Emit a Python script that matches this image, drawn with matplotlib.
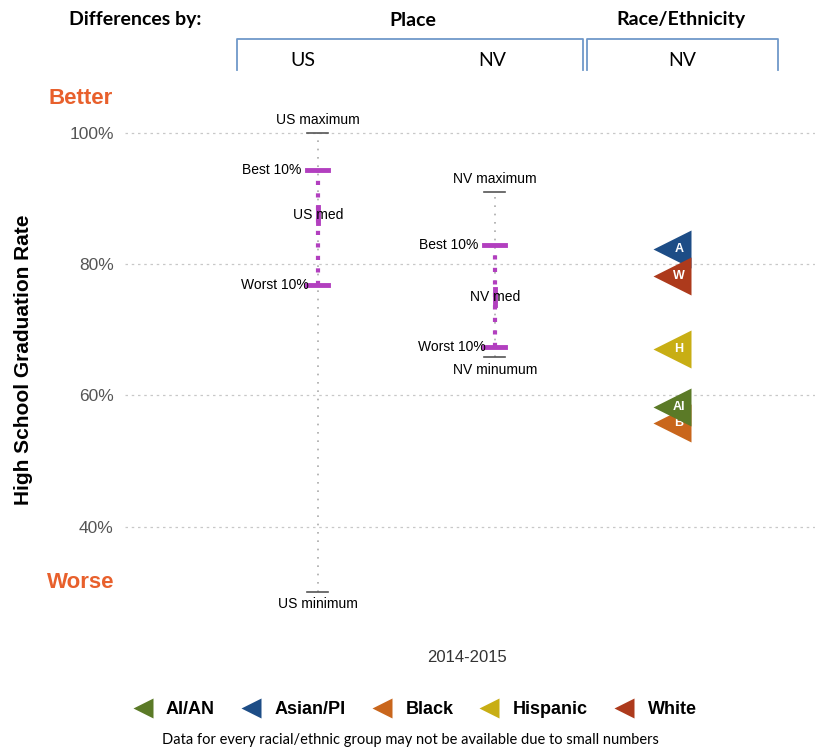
import matplotlib.pyplot as plt
from matplotlib.lines import Line2D

# place summaries (percent graduating)
places = ["US", "NV"]
place_max = [100.0, 91.0]
place_best = [94.3, 83.0]
place_med = [87.5, 75.0]
place_worst = [76.8, 67.4]
place_min = [30.1, 65.8]
min_labels = ["US minimum", "NV minumum"]
max_labels = ["US maximum", "NV maximum"]
med_labels = ["US med", "NV med"]

# race/ethnicity values for NV
groups = ["AI/AN", "Asian/PI", "Black", "Hispanic", "White"]
group_short = ["AI", "A", "B", "H", "W"]
group_vals = [58.3, 82.4, 55.8, 67.1, 78.2]
group_colors = ["#5b7a27", "#1d4d86", "#c9661c", "#c8ae14", "#ad3a1c"]
group_z = [6, 3, 5, 3, 4]

plt.rcParams["font.family"] = ["Liberation Sans", "DejaVu Sans"]

fig = plt.figure(figsize=(8.21, 7.54), dpi=100)
ax = fig.add_axes([0.152, 0.178, 0.841, 0.689])
ax.set_xlim(-1.09, 2.81)
ax.set_ylim(25.8, 105)

for v in [40, 60, 80, 100]:
    ax.axhline(v, color="#c8c8c8", lw=0.9, ls=(0, (2, 3)), zorder=0)

magenta = "#b23fbf"
for i, name in enumerate(places):
    ax.plot([i, i], [place_min[i], place_max[i]], color="#aaaaaa", lw=1.2,
            ls=(0, (1, 4)), zorder=1)
    ax.plot([i, i], [place_worst[i], place_best[i]], color=magenta, lw=3,
            ls=(0, (1, 2)), zorder=2)
    ax.plot([i - 0.06, i + 0.06], [place_max[i]] * 2, color="#555555", lw=1.2)
    ax.plot([i - 0.06, i + 0.06], [place_min[i]] * 2, color="#555555", lw=1.2)
    ax.plot([i - 0.06, i + 0.06], [place_best[i]] * 2, color=magenta, lw=3.5)
    ax.plot([i - 0.06, i + 0.06], [place_worst[i]] * 2, color=magenta, lw=3.5)
    ax.plot([i, i], [place_med[i] - 1.2, place_med[i] + 1.2], color=magenta, lw=3.5)
    ax.text(i, place_max[i] + 0.9, max_labels[i], ha="center", va="bottom", fontsize=10)
    ax.text(i, place_min[i] - 0.9, min_labels[i], ha="center", va="top", fontsize=10)
    ax.text(i, place_med[i], med_labels[i], ha="center", va="center", fontsize=10)
    ax.text(i - 0.09, place_best[i], "Best 10%", ha="right", va="center", fontsize=10)
    ax.text(i - 0.05, place_worst[i], "Worst 10%", ha="right", va="center", fontsize=10)

for s, v, c, z in zip(group_short, group_vals, group_colors, group_z):
    ax.plot(2, v, marker="<", ms=28, color=c, mec="none", zorder=z)
    ax.text(2.04, v, s, color="white", ha="center", va="center", fontsize=9,
            fontweight="bold", zorder=z + 0.5)

ax.set_yticks([40, 60, 80, 100])
ax.set_yticklabels(["40%", "60%", "80%", "100%"], fontsize=12.5, color="#555555")
ax.tick_params(axis="y", length=0, pad=8)
ax.set_xticks([])
for sp in ax.spines.values():
    sp.set_visible(False)
ax.set_ylabel("High School Graduation Rate", fontsize=15, fontweight="bold",
              labelpad=26)

orange = "#e8602c"
fig.text(0.098, 1 - 98 / 754, "Better", color=orange, fontsize=16,
         fontweight="bold", ha="center", va="center")
fig.text(0.098, 1 - 582 / 754, "Worse", color=orange, fontsize=16,
         fontweight="bold", ha="center", va="center")

# header
hdr = ["Lato", "DejaVu Sans"]
fig.text(135 / 821, 1 - 20 / 754, "Differences by:", fontsize=14, fontweight="bold",
         ha="center", va="center", family=hdr)
fig.text(413 / 821, 1 - 20 / 754, "Place", fontsize=14, fontweight="bold",
         ha="center", va="center", family=hdr)
fig.text(681 / 821, 1 - 20 / 754, "Race/Ethnicity", fontsize=14, fontweight="bold",
         ha="center", va="center", family=hdr)
blue = "#6f99c9"
for x0, x1 in [(237, 583), (587, 778)]:
    fig.add_artist(Line2D([x0 / 821, x0 / 821, x1 / 821, x1 / 821],
                          [1 - 70 / 754, 1 - 39 / 754, 1 - 39 / 754, 1 - 70 / 754],
                          color=blue, lw=1.3))
for x, s in [(303, "US"), (492, "NV"), (682, "NV")]:
    fig.text(x / 821, 1 - 60 / 754, s, fontsize=14, ha="center", va="center", family=hdr)

fig.text(467 / 821, 1 - 658 / 754, "2014-2015", fontsize=12, color="#333333",
         ha="center", va="center")

handles = [Line2D([], [], marker="<", ls="none", ms=15, color=c, mec="none")
           for c in group_colors]
leg = fig.legend(handles, groups, loc="center", bbox_to_anchor=(0.5, 1 - 710 / 754),
                 ncol=5, frameon=False, handletextpad=0.3, columnspacing=1.0,
                 prop={"size": 13, "weight": "bold"})
fig.text(0.5, 1 - 740 / 754,
         "Data for every racial/ethnic group may not be available due to small numbers",
         fontsize=10.5, ha="center", va="center", family=hdr)

fig.savefig("out.png", dpi=100)
